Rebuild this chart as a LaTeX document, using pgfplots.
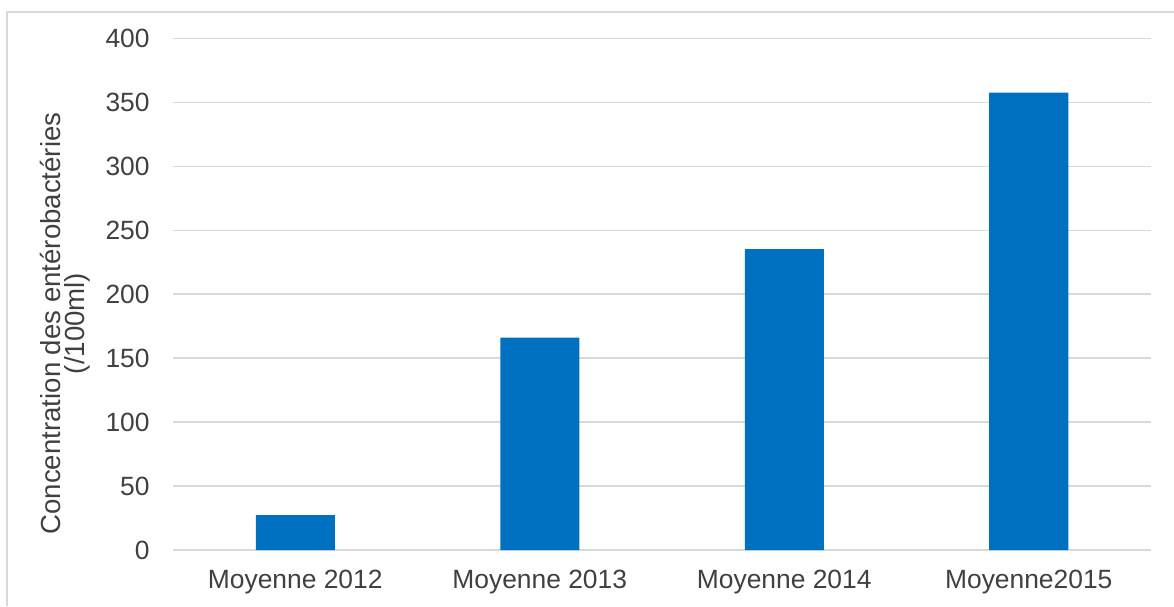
\documentclass[border=0pt]{standalone}
\usepackage{fontspec}
\setmainfont{Liberation Sans}
\usepackage{pgfplots}
\pgfplotsset{compat=1.18}
\definecolor{barblue}{HTML}{0070C0}
\definecolor{gridgray}{HTML}{D9D9D9}
\definecolor{textgray}{HTML}{404040}
\begin{document}
\begin{tikzpicture}
\useasboundingbox (0,0) rectangle (587pt,303pt);
\draw[gridgray, line width=1pt] (3.5pt,0pt) -- (3.5pt,297pt) -- (587pt,297pt);
\begin{axis}[
  at={(86.5pt,28pt)}, anchor=south west,
  scale only axis, width=489pt, height=255.75pt,
  xmin=-0.5, xmax=3.5, ymin=0, ymax=400,
  ytick={0,50,100,150,200,250,300,350,400},
  xtick=data,
  xticklabels={Moyenne 2012, Moyenne 2013, Moyenne 2014, Moyenne2015},
  axis line style={draw=none},
  major tick length=0pt,
  ymajorgrids, grid style={gridgray, line width=0.8pt},
  tick label style={font=\fontsize{13.2}{15}\selectfont, text=textgray},
  yticklabel style={anchor=east, inner sep=0pt, xshift=-11.5pt},
  xticklabel style={anchor=north, inner sep=0pt, yshift=-10pt},
  /pgf/number format/assume math mode=true,
  ybar, bar width=39.5pt,
]
\addplot[fill=barblue, draw=none] coordinates {(0,27.2) (1,166) (2,235.3) (3,357.6)};
\end{axis}
\node[rotate=90, align=center, font=\fontsize{13.8}{12}\selectfont, text=textgray, inner sep=0pt] at (32.5pt,141.25pt) {Concentration des entérobactéries\\(/100ml)};
\end{tikzpicture}
\end{document}
